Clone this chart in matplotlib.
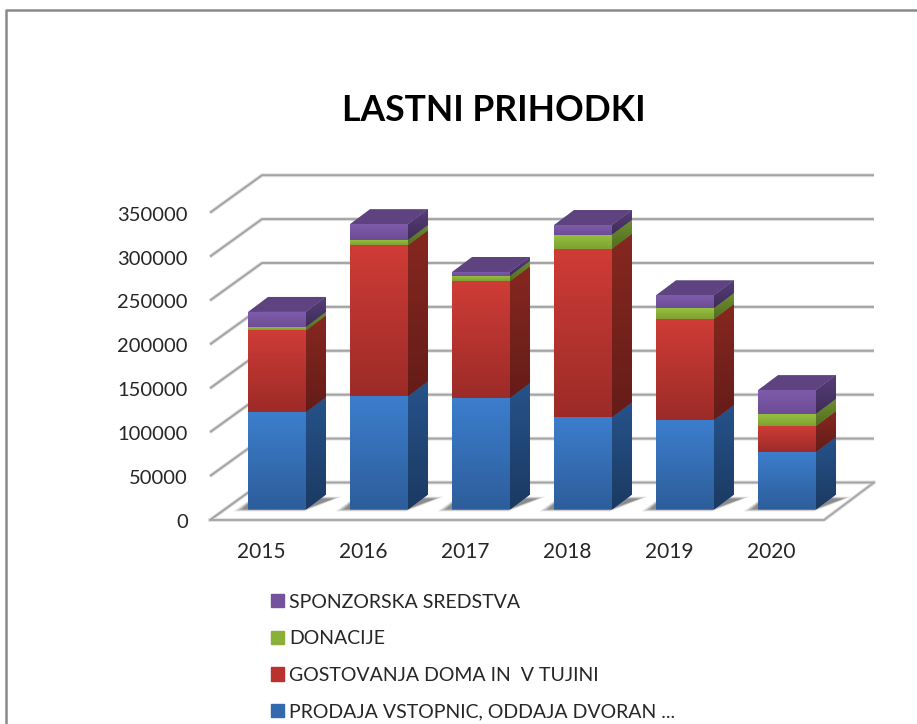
import numpy as np
import matplotlib
matplotlib.use("Agg")
import matplotlib.pyplot as plt
from matplotlib.colors import to_rgb
from matplotlib.patches import Polygon, Patch

years = ["2015", "2016", "2017", "2018", "2019", "2020"]
prodaja = [111000, 129000, 127000, 105000, 102000, 65500]
gostovanja = [93000, 172000, 133000, 192000, 115000, 29500]
donacije = [4000, 6000, 6000, 16000, 12500, 14000]
sponzorska = [17000, 18000, 4500, 11000, 14500, 27000]
value_ticks = [0, 50000, 100000, 150000, 200000, 250000, 300000, 350000]
labels = ["PRODAJA VSTOPNIC, ODDAJA DVORAN ...", "GOSTOVANJA DOMA IN  V TUJINI",
          "DONACIJE", "SPONZORSKA SREDSTVA"]

# front top, front bottom, side top, side bottom
styles = [
    ("#3c7ecd", "#2d5e9b", "#26538b", "#1b3a62"),
    ("#cf3c36", "#9c2b28", "#86281f", "#651c19"),
    ("#97c240", "#7fa032", "#6e9030", "#526c22"),
    ("#7f5bab", "#6c4d94", "#573e78", "#3f2c58"),
]
top_color = "#5e4380"
legend_colors = ["#3469ae", "#b9322e", "#8ab03a", "#74539d"]

plt.rcParams["font.family"] = ["Lato", "DejaVu Sans"]

PX_Y = 50000 / 43.9
PX_X = 1 / 102
fig = plt.figure(figsize=(9.17, 7.24), dpi=100)
ax = fig.add_axes([0, 0, 1, 1])
ax.set_xlim(-277 * PX_X, 640 * PX_X)
ax.set_ylim(-214.5 * PX_Y, 509.5 * PX_Y)
ax.axis("off")

bar_w = 58 * PX_X
dx = 20 * PX_X
dy = 15 * PX_Y


def grad(patch, c1, c2, x0, x1, y0, y1, z):
    g = np.linspace(to_rgb(c1), to_rgb(c2), 64)[:, None, :]
    im = ax.imshow(g, extent=[x0, x1, y0, y1], origin="upper", aspect="auto",
                   zorder=z, interpolation="bilinear")
    im.set_clip_path(patch)


# walls and floor
xf, xb, xr = -67 * PX_X, -15 * PX_X, 597 * PX_X
front = -10.5 * PX_Y
back = 27 * PX_Y
for t in value_ticks:
    xs = [xf, xb, xr]
    ys = [t + front, t + back, t + back]
    ax.plot(xs, ys, color="#e2e2e2", lw=2.8, zorder=1, solid_capstyle="butt")
    ax.plot(xs, ys, color="#a3a3a3", lw=1.4, zorder=1.1, solid_capstyle="butt")
xfr = 547 * PX_X
ax.plot([xf, xfr, xr], [front, front, back], color="#e2e2e2", lw=2.8, zorder=1)
ax.plot([xf, xfr, xr], [front, front, back], color="#a8a8a8", lw=1.4, zorder=1.1)

# bars
x = np.arange(len(years))
series = [prodaja, gostovanja, donacije, sponzorska]
bottom = np.zeros(len(years))
for i in range(len(years)):
    # floor shadow
    for k, a in zip(range(6), [0.08, 0.1, 0.12, 0.15, 0.18, 0.22]):
        s = k * 1.8
        ax.add_patch(Polygon(
            [(x[i] - bar_w / 2 - (15 - s) * PX_X, (-2 + s / 4) * PX_Y),
             (x[i] + bar_w / 2 - 2 * PX_X, (-2 + s / 4) * PX_Y),
             (x[i] + bar_w / 2 + (36 - s) * PX_X, (13 - s / 4) * PX_Y),
             (x[i] - bar_w / 2 + 6 * PX_X, (13 - s / 4) * PX_Y)],
            fc="#444444", ec="none", alpha=a, zorder=1.5))

for vals, st in zip(series, styles):
    vals = np.array(vals)
    bars = ax.bar(x, vals, bar_w, bottom=bottom, color=st[0], zorder=3)
    for i, b in enumerate(bars):
        y0, y1 = bottom[i], bottom[i] + vals[i]
        x0, x1 = x[i] - bar_w / 2, x[i] + bar_w / 2
        grad(b, st[0], st[1], x0, x1, y0, y1, 3.2)
        side = Polygon([(x1, y0), (x1 + dx, y0 + dy), (x1 + dx, y1 + dy), (x1, y1)],
                       fc=st[2], ec="none", zorder=2)
        ax.add_patch(side)
        grad(side, st[2], st[3], x1, x1 + dx, y0, y1 + dy, 2.2)
    bottom = bottom + vals

# top faces of the stacks
for i in range(len(years)):
    x0, x1 = x[i] - bar_w / 2, x[i] + bar_w / 2
    ax.add_patch(Polygon([(x0, bottom[i]), (x1, bottom[i]), (x1 + dx, bottom[i] + dy),
                          (x0 + dx, bottom[i] + dy)], fc=top_color, ec="none", zorder=3))

# tick labels
for t in value_ticks:
    ax.text(-89 * PX_X, t + front - 2.5 * PX_Y, str(t), ha="right", va="center",
            fontsize=14.5, color="#262626")
for i, yr in enumerate(years):
    ax.text(x[i] - 16 * PX_X, -43 * PX_Y, yr, ha="center", va="center", fontsize=15,
            color="#262626")

ax.text(217 * PX_X, 399 * PX_Y, "LASTNI PRIHODKI", ha="center", va="center",
        fontsize=25.6, fontweight="bold", color="black")

# legend
handles = [Patch(color=c, label=l) for c, l in zip(legend_colors, labels)]
leg = ax.legend(handles=handles[::-1], loc="upper left", frameon=False,
                bbox_to_anchor=(271 / 917, 1 - 593.5 / 724), fontsize=14,
                handlelength=0.68, handleheight=0.68, handletextpad=0.25,
                labelspacing=1.01, borderpad=0, borderaxespad=0)
for t in leg.get_texts():
    t.set_color("#262626")

# chart border
ax.plot([-271 * PX_X, -271 * PX_X, 640 * PX_X],
        [-214.5 * PX_Y, 499.5 * PX_Y, 499.5 * PX_Y], color="#8a8a8a", lw=1.8,
        zorder=5, clip_on=False)

ax.set_xlim(-277 * PX_X, 640 * PX_X)
ax.set_ylim(-214.5 * PX_Y, 509.5 * PX_Y)
fig.savefig("out.png", dpi=100, facecolor="white")
